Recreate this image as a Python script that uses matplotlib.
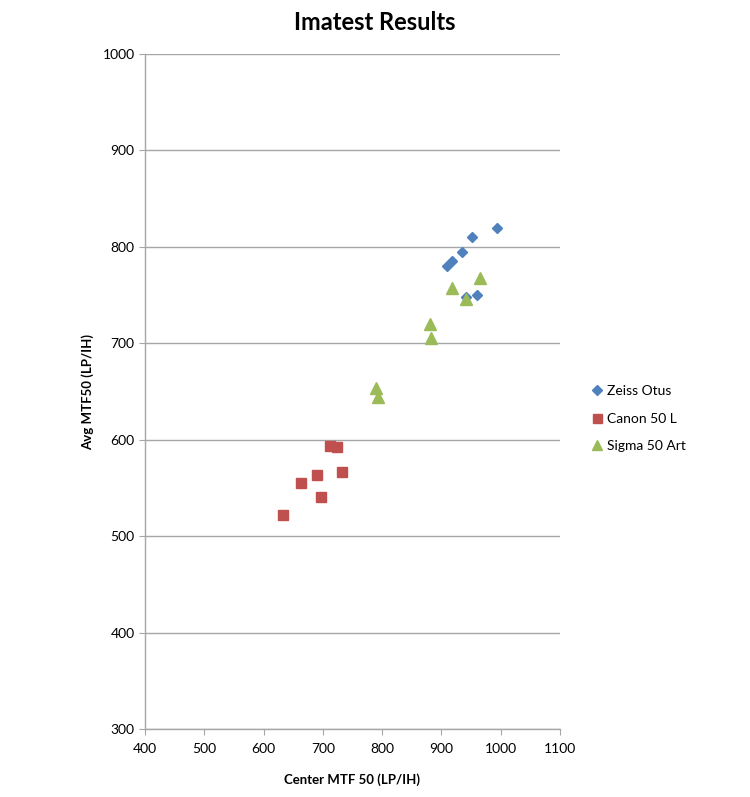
import matplotlib
matplotlib.use("Agg")
import matplotlib.pyplot as plt

plt.rcParams['font.family'] = ['Lato', 'DejaVu Sans']

zeiss_x = [994, 951, 935, 918, 909, 941, 960]
zeiss_y = [820, 810, 795, 785, 780, 748, 750]

canon_x = [712, 724, 733, 690, 663, 697, 633]
canon_y = [593, 592, 567, 563, 555, 541, 522]

sigma_x = [965, 917, 941, 880, 883, 790, 793]
sigma_y = [768, 757, 746, 720, 706, 654, 644]

series_names = ["Zeiss Otus", "Canon 50 L", "Sigma 50 Art"]
x_ticks = [400, 500, 600, 700, 800, 900, 1000, 1100]
y_ticks = [300, 400, 500, 600, 700, 800, 900, 1000]

fig = plt.figure(figsize=(7.5, 7.97), dpi=100)
ax = fig.add_axes([0.1933, 0.0853, 0.5534, 0.8469])

ax.plot(zeiss_x, zeiss_y, linestyle='none', marker='D', markersize=5.2,
        color='#4F81BD', label=series_names[0], zorder=3)
ax.plot(canon_x, canon_y, linestyle='none', marker='s', markersize=7.2,
        color='#C0504D', label=series_names[1], zorder=3)
ax.plot(sigma_x, sigma_y, linestyle='none', marker='^', markersize=8,
        color='#9BBB59', label=series_names[2], zorder=3)

ax.set_xlim(400, 1100)
ax.set_ylim(300, 1000)
ax.set_xticks(x_ticks)
ax.set_yticks(y_ticks)
ax.yaxis.grid(True, color='#a6a6a6', linewidth=1)
ax.set_axisbelow(True)
for s in ['top', 'right']:
    ax.spines[s].set_visible(False)
for s in ['left', 'bottom']:
    ax.spines[s].set_color('#a6a6a6')
    ax.spines[s].set_linewidth(1)
ax.tick_params(axis='both', colors='#a6a6a6', labelcolor='black',
               labelsize=10, length=4, direction='out')
ax.tick_params(axis='x', pad=6)

ax.set_xlabel("Center MTF 50 (LP/IH)", fontsize=9.5, fontweight='bold', labelpad=13)
ax.set_ylabel("Avg MTF50 (LP/IH)", fontsize=9.5, fontweight='bold', labelpad=6)
fig.text(0.5, 0.972, "Imatest Results", ha='center', va='center',
         fontsize=17, fontweight='bold')

leg = ax.legend(loc='center left', bbox_to_anchor=(1.04, 0.46), frameon=False,
                fontsize=10, handletextpad=0.1, handlelength=1.2,
                labelspacing=1.1, markerscale=0.9)

fig.savefig("out.png", dpi=100)
